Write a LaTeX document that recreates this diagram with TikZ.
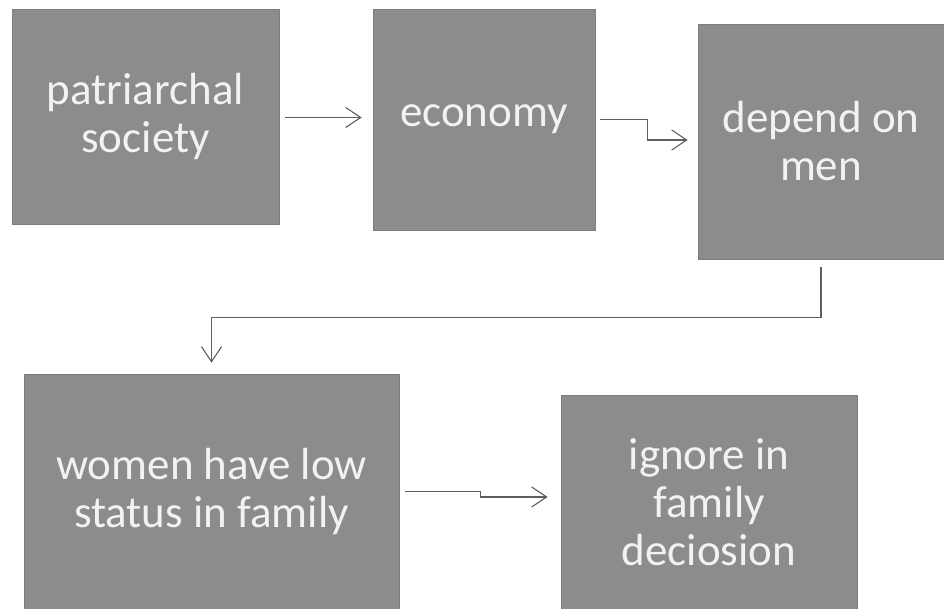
\documentclass[tikz,border=0pt]{standalone}
\usepackage{fontspec}
\setmainfont{Carlito}
\usetikzlibrary{arrows.meta}
\definecolor{boxgray}{RGB}{140,140,140}
\definecolor{boxedge}{RGB}{125,125,125}
\definecolor{txtwhite}{RGB}{242,242,242}
\definecolor{linegray}{RGB}{95,95,95}
\tikzset{
  stepbox/.style={rectangle, fill=boxgray, draw=boxedge, line width=0.6pt, inner sep=0pt,
    text=txtwhite, align=center, font=\fontsize{45}{48}\selectfont},
  arr/.style={draw=linegray, line width=1.1pt, -{Straight Barb[length=15pt,width=20pt,line width=1.1pt]}}
}
\begin{document}
\begin{tikzpicture}[x=1pt,y=-1pt]
\useasboundingbox[fill=white] (0,0) rectangle (944,609);
\node[stepbox, minimum width=267pt, minimum height=215pt] (b1) at (145.5,116.5) {patriarchal\\society};
\node[stepbox, minimum width=222pt, minimum height=221pt] (b2) at (484,119.5) {economy};
\node[stepbox, minimum width=246pt, minimum height=235pt] (b3) at (821,141.5) {depend on\\men};
\node[stepbox, minimum width=375pt, minimum height=235pt] (b4) at (211.5,491.5) {women have low\\status in family};
\node[stepbox, minimum width=296pt, minimum height=214pt] (b5) at (709,502) {ignore in\\family\\deciosion};
\draw[arr] ([xshift=6pt,yshift=-1pt]b1.east) -- ([xshift=-11pt,yshift=-1pt]b1.east -| b2.west);
\draw[arr] ([xshift=5pt]b2.east) -- ++(47,0) |- ([xshift=-10pt,yshift=1.5pt]b3.west);
\draw[arr] ([yshift=-8pt]b3.south) -- ++(0,50) -| ([yshift=11pt]b4.north);
\draw[arr] ([xshift=6pt]b4.east) -- ++(75,0) |- ([xshift=-13pt,yshift=5pt]b5.west);
\end{tikzpicture}
\end{document}
